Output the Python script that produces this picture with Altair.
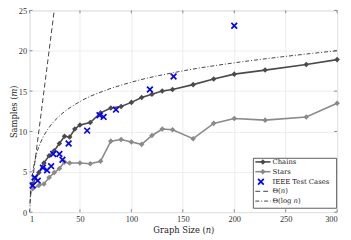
import altair as alt
import pandas as pd

# ---- data ----
chain_n = [4, 10, 15, 20, 25, 30, 35, 40, 45, 50, 60, 70, 80, 90, 100, 110, 120, 130, 140, 160, 180, 200, 230, 270, 300]
chain_m = [3.5, 4.9, 6.1, 7.0, 7.6, 8.5, 9.4, 9.3, 10.3, 10.8, 11.1, 12.3, 12.9, 13.1, 13.6, 14.2, 14.6, 15.0, 15.2, 15.8, 16.5, 17.1, 17.6, 18.3, 18.9]
star_n = [4, 10, 15, 20, 25, 30, 35, 40, 50, 60, 70, 80, 90, 100, 110, 120, 130, 140, 160, 180, 200, 230, 270, 300]
star_m = [2.9, 3.3, 3.5, 4.3, 4.9, 5.4, 6.2, 6.1, 6.1, 6.0, 6.3, 8.8, 9.0, 8.7, 8.4, 9.5, 10.3, 10.2, 9.1, 11.0, 11.6, 11.4, 11.8, 13.5]
ieee_n = [4, 6, 9, 14, 18, 22, 24, 30, 33, 39, 57, 69, 73, 85, 118, 141, 200]
ieee_m = [3.3, 4.3, 3.9, 5.5, 5.2, 5.7, 7.2, 7.2, 6.5, 8.5, 10.1, 12.0, 11.8, 12.7, 15.2, 16.8, 23.1]
lin_n = [1, 25]
lin_m = [1, 25]
log_n = [1, 2, 3, 5, 8, 12, 20, 30, 50, 75, 100, 150, 200, 250, 300]
log_m = [0, 2.4, 3.85, 5.6, 7.3, 8.7, 10.5, 11.9, 13.7, 15.1, 16.1, 17.5, 18.5, 19.3, 20.0]
x_ticks = [1, 50, 100, 150, 200, 250, 300]
y_ticks = [0, 5, 10, 15, 20, 25]
legend_labels = ["Chains", "Stars", "IEEE Test Cases", "Θ(𝑛)", "Θ(log 𝑛)"]

W, H = 314, 206
SERIF = "DejaVu Serif"
TICKFONT = "Liberation Serif"
FRAME = "#707070"
CHAIN_C = "#4a4a4a"
STAR_C = "#8a8a8a"
BLUE = "#0000ff"
XPATH = "M-1,-1L1,1M-1,1L1,-1"

xscale = alt.Scale(domain=[1, 300], nice=False, zero=False)
yscale = alt.Scale(domain=[0, 25], nice=False, zero=True)
xaxis = alt.Axis(values=x_ticks, title="Graph Size (𝑛)", grid=True, gridColor="#e4e4e4",
                 gridWidth=0.7, ticks=False, domain=False, labelFont=TICKFONT, labelFontSize=8.5,
                 labelColor="#333333", labelPadding=3, titleFont=SERIF, titleFontSize=8.5,
                 titleFontWeight="normal", titleColor="#222222", titleY=14, titleBaseline="top")
yaxis = alt.Axis(values=y_ticks, title="Samples (𝑚)", grid=True, gridColor="#e4e4e4",
                 gridWidth=0.7, ticks=False, domain=False, labelFont=TICKFONT, labelFontSize=8.5,
                 labelColor="#333333", labelPadding=3, titleFont=SERIF, titleFontSize=8.5,
                 titleFontWeight="normal", titleColor="#222222", titleX=-11, titleY=H / 2,
                 titleBaseline="bottom", titleAngle=270)
X = alt.X("n:Q", scale=xscale, axis=xaxis)
Y = alt.Y("m:Q", scale=yscale, axis=yaxis)

chains = pd.DataFrame({"n": chain_n, "m": chain_m})
stars = pd.DataFrame({"n": star_n, "m": star_m})
ieee = pd.DataFrame({"n": ieee_n, "m": ieee_m})
lin = pd.DataFrame({"n": lin_n, "m": lin_m})
logc = pd.DataFrame({"n": log_n, "m": log_m})
xt = pd.DataFrame({"n": x_ticks})
yt = pd.DataFrame({"m": y_ticks})

layers = []
# inward ticks
layers.append(alt.Chart(xt).mark_rule(color=FRAME, strokeWidth=0.8).encode(x=X, y=alt.value(H), y2=alt.value(H - 3)))
layers.append(alt.Chart(xt).mark_rule(color=FRAME, strokeWidth=0.8).encode(x=X, y=alt.value(0), y2=alt.value(3)))
layers.append(alt.Chart(yt).mark_rule(color=FRAME, strokeWidth=0.8).encode(y=Y, x=alt.value(0), x2=alt.value(3)))
layers.append(alt.Chart(yt).mark_rule(color=FRAME, strokeWidth=0.8).encode(y=Y, x=alt.value(W), x2=alt.value(W - 3)))

# theory curves
layers.append(alt.Chart(lin).mark_line(color="#111111", strokeWidth=0.8, strokeDash=[5, 3], clip=True).encode(x=X, y=Y))
layers.append(alt.Chart(logc).mark_line(color="#111111", strokeWidth=0.8, strokeDash=[4, 2, 1, 2], clip=True, interpolate="monotone").encode(x=X, y=Y))

# series
layers.append(alt.Chart(stars).mark_line(color=STAR_C, strokeWidth=1.6, point=alt.OverlayMarkDef(shape="diamond", size=32, filled=True, color=STAR_C)).encode(x=X, y=Y))
layers.append(alt.Chart(chains).mark_line(color=CHAIN_C, strokeWidth=1.6, point=alt.OverlayMarkDef(shape="diamond", size=32, filled=True, color=CHAIN_C)).encode(x=X, y=Y))
layers.append(alt.Chart(ieee).mark_point(shape=XPATH, size=34, filled=False, color=BLUE, strokeWidth=1.7, opacity=1).encode(x=X, y=Y))

# legend (drawn manually)
one = pd.DataFrame({"k": [0]})
LX0, LX1, LY0, LY1 = 228.5, 313.5, 151, 202
rows = [154.7, 164.7, 175.0, 184.7, 194.7]
sx0, sx1, sxc, tx = 230.5, 246, 238.2, 248
layers.append(alt.Chart(one).mark_rect(fill="white", stroke="#333333", strokeWidth=0.8).encode(
    x=alt.value(LX0), x2=alt.value(LX1), y=alt.value(LY0), y2=alt.value(LY1)))
layers.append(alt.Chart(one).mark_rule(color=CHAIN_C, strokeWidth=1.6).encode(x=alt.value(sx0), x2=alt.value(sx1), y=alt.value(rows[0])))
layers.append(alt.Chart(one).mark_point(shape="diamond", size=32, filled=True, color=CHAIN_C, opacity=1).encode(x=alt.value(sxc), y=alt.value(rows[0])))
layers.append(alt.Chart(one).mark_rule(color=STAR_C, strokeWidth=1.6).encode(x=alt.value(sx0), x2=alt.value(sx1), y=alt.value(rows[1])))
layers.append(alt.Chart(one).mark_point(shape="diamond", size=32, filled=True, color=STAR_C, opacity=1).encode(x=alt.value(sxc), y=alt.value(rows[1])))
layers.append(alt.Chart(one).mark_point(shape=XPATH, size=34, filled=False, color=BLUE, strokeWidth=1.7, opacity=1).encode(x=alt.value(sxc - 2), y=alt.value(rows[2])))
layers.append(alt.Chart(one).mark_rule(color="#111111", strokeWidth=0.8, strokeDash=[5, 3]).encode(x=alt.value(sx0), x2=alt.value(sx1), y=alt.value(rows[3])))
layers.append(alt.Chart(one).mark_rule(color="#111111", strokeWidth=0.8, strokeDash=[4, 2, 1, 2]).encode(x=alt.value(sx0), x2=alt.value(sx1), y=alt.value(rows[4])))
for lab, ry in zip(legend_labels, rows):
    layers.append(alt.Chart(one).mark_text(align="left", baseline="middle", font=SERIF, fontSize=7, color="#222222").encode(
        x=alt.value(tx), y=alt.value(ry), text=alt.value(lab)))

chart = alt.layer(*layers).properties(
    width=W, height=H,
    autosize=alt.AutoSizeParams(type="none"),
    padding={"left": 22, "top": 0, "right": 6, "bottom": 26},
).configure_view(stroke=FRAME, strokeWidth=1).configure(background="white")

chart.save("out.html", embed_options={"renderer": "svg", "actions": False})
